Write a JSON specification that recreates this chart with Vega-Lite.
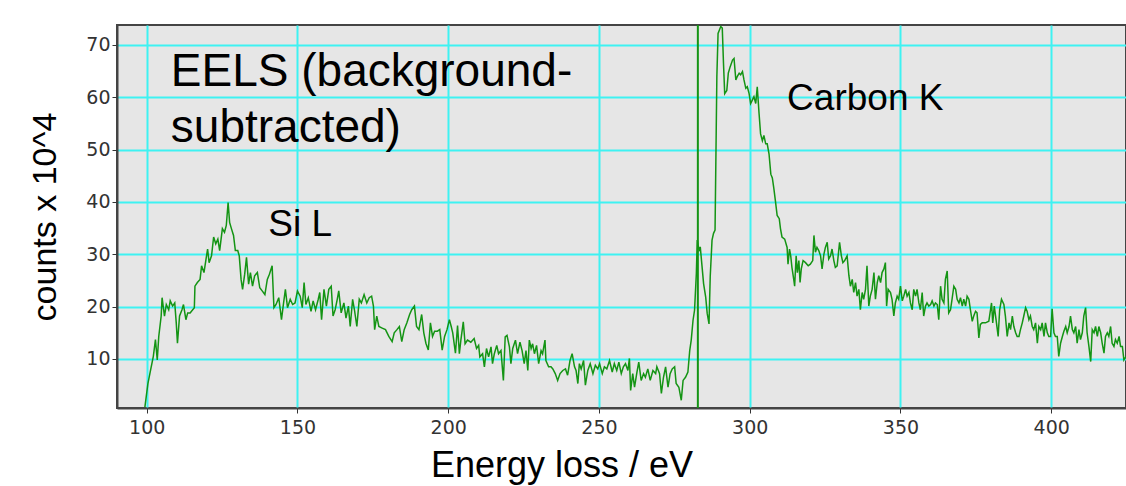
{
  "$schema": "https://vega.github.io/schema/vega-lite/v6.json",
  "width": 1009,
  "height": 383,
  "autosize": {"type": "none"},
  "padding": {"left": 117, "top": 25, "right": 0, "bottom": 78},
  "background": "#ffffff",
  "config": {
    "view": {"fill": "#e6e6e6", "stroke": "#444444", "strokeWidth": 2},
    "axis": {
      "grid": true,
      "gridColor": "#3ef2f2",
      "gridWidth": 2,
      "gridOpacity": 1,
      "domain": true,
      "domainColor": "#444444",
      "domainWidth": 2,
      "tickColor": "#333333",
      "tickSize": 5,
      "tickWidth": 1,
      "labelFont": "DejaVu Sans",
      "labelFontSize": 19,
      "labelColor": "#333333",
      "titleFont": "Liberation Sans",
      "titleFontWeight": "normal",
      "titleColor": "#000000"
    }
  },
  "datasets": {
    "spectrum": [
      {"energy": 99.4, "counts": 0.8}, {"energy": 100.4, "counts": 5.3}, {"energy": 101.3, "counts": 7.9}, {"energy": 102.2, "counts": 10.5}, {"energy": 102.9, "counts": 13.7}, {"energy": 103.5, "counts": 9.8}, {"energy": 104.0, "counts": 14.3}, {"energy": 104.8, "counts": 18.2}, {"energy": 105.1, "counts": 21.7}, {"energy": 105.9, "counts": 18.2}, {"energy": 106.5, "counts": 20.4}, {"energy": 107.3, "counts": 19.4}, {"energy": 107.8, "counts": 21.1}, {"energy": 108.6, "counts": 20.1}, {"energy": 109.3, "counts": 20.7}, {"energy": 109.8, "counts": 16.9}, {"energy": 110.2, "counts": 13.0}, {"energy": 110.9, "counts": 18.2}, {"energy": 111.7, "counts": 19.4}, {"energy": 112.2, "counts": 20.4}, {"energy": 113.0, "counts": 17.5}, {"energy": 113.6, "counts": 18.8}, {"energy": 114.4, "counts": 18.8}, {"energy": 115.8, "counts": 19.8}, {"energy": 116.0, "counts": 23.9}, {"energy": 116.8, "counts": 24.6}, {"energy": 117.7, "counts": 25.2}, {"energy": 118.2, "counts": 27.8}, {"energy": 119.0, "counts": 26.5}, {"energy": 119.6, "counts": 28.8}, {"energy": 120.2, "counts": 31.0}, {"energy": 120.7, "counts": 28.4}, {"energy": 121.5, "counts": 29.7}, {"energy": 122.2, "counts": 33.3}, {"energy": 122.9, "counts": 32.0}, {"energy": 123.6, "counts": 32.9}, {"energy": 124.2, "counts": 30.7}, {"energy": 125.1, "counts": 34.9}, {"energy": 125.8, "counts": 34.2}, {"energy": 126.4, "counts": 35.5}, {"energy": 127.0, "counts": 39.9}, {"energy": 127.5, "counts": 36.1}, {"energy": 128.1, "counts": 34.9}, {"energy": 128.8, "counts": 33.6}, {"energy": 129.4, "counts": 30.7}, {"energy": 130.2, "counts": 30.7}, {"energy": 130.7, "counts": 29.7}, {"energy": 131.3, "counts": 25.2}, {"energy": 131.8, "counts": 23.3}, {"energy": 132.5, "counts": 26.2}, {"energy": 133.1, "counts": 29.4}, {"energy": 133.8, "counts": 24.3}, {"energy": 134.4, "counts": 26.5}, {"energy": 135.1, "counts": 23.9}, {"energy": 135.8, "counts": 25.9}, {"energy": 136.7, "counts": 26.5}, {"energy": 137.5, "counts": 23.6}, {"energy": 138.3, "counts": 23.0}, {"energy": 139.2, "counts": 22.3}, {"energy": 140.0, "counts": 25.2}, {"energy": 140.7, "counts": 26.2}, {"energy": 141.6, "counts": 27.8}, {"energy": 142.2, "counts": 19.8}, {"energy": 142.9, "counts": 20.4}, {"energy": 143.8, "counts": 21.7}, {"energy": 144.7, "counts": 17.5}, {"energy": 145.4, "counts": 20.7}, {"energy": 146.0, "counts": 23.3}, {"energy": 146.7, "counts": 19.8}, {"energy": 147.6, "counts": 21.4}, {"energy": 148.4, "counts": 20.4}, {"energy": 149.2, "counts": 20.7}, {"energy": 150.0, "counts": 23.0}, {"energy": 150.9, "counts": 22.0}, {"energy": 151.6, "counts": 19.8}, {"energy": 152.2, "counts": 24.6}, {"energy": 152.8, "counts": 20.4}, {"energy": 153.6, "counts": 21.7}, {"energy": 154.5, "counts": 19.1}, {"energy": 155.2, "counts": 21.1}, {"energy": 156.0, "counts": 19.4}, {"energy": 156.9, "counts": 21.4}, {"energy": 157.4, "counts": 22.7}, {"energy": 158.0, "counts": 17.5}, {"energy": 158.8, "counts": 23.3}, {"energy": 159.6, "counts": 20.1}, {"energy": 160.4, "counts": 23.3}, {"energy": 161.2, "counts": 23.9}, {"energy": 161.8, "counts": 18.2}, {"energy": 162.5, "counts": 19.4}, {"energy": 163.2, "counts": 21.4}, {"energy": 163.7, "counts": 23.0}, {"energy": 164.5, "counts": 18.8}, {"energy": 165.4, "counts": 20.7}, {"energy": 166.1, "counts": 17.8}, {"energy": 166.9, "counts": 20.1}, {"energy": 167.5, "counts": 16.2}, {"energy": 168.3, "counts": 21.4}, {"energy": 168.9, "counts": 19.4}, {"energy": 169.7, "counts": 16.2}, {"energy": 170.5, "counts": 21.4}, {"energy": 171.2, "counts": 20.7}, {"energy": 172.1, "counts": 22.3}, {"energy": 173.0, "counts": 20.7}, {"energy": 173.8, "counts": 21.7}, {"energy": 174.6, "counts": 22.0}, {"energy": 175.2, "counts": 20.1}, {"energy": 175.6, "counts": 15.6}, {"energy": 176.3, "counts": 18.2}, {"energy": 177.0, "counts": 16.2}, {"energy": 178.1, "counts": 15.9}, {"energy": 179.2, "counts": 15.6}, {"energy": 180.3, "counts": 14.3}, {"energy": 181.4, "counts": 13.3}, {"energy": 182.1, "counts": 15.0}, {"energy": 183.0, "counts": 15.6}, {"energy": 183.8, "counts": 16.2}, {"energy": 184.6, "counts": 13.3}, {"energy": 185.4, "counts": 15.6}, {"energy": 186.3, "counts": 16.9}, {"energy": 187.2, "counts": 18.5}, {"energy": 187.9, "counts": 19.4}, {"energy": 188.8, "counts": 20.1}, {"energy": 189.5, "counts": 16.2}, {"energy": 190.3, "counts": 15.6}, {"energy": 191.2, "counts": 18.5}, {"energy": 191.9, "counts": 15.0}, {"energy": 192.6, "counts": 13.0}, {"energy": 193.4, "counts": 11.7}, {"energy": 194.1, "counts": 16.9}, {"energy": 194.8, "counts": 14.3}, {"energy": 195.5, "counts": 15.3}, {"energy": 196.4, "counts": 15.3}, {"energy": 197.2, "counts": 15.6}, {"energy": 198.0, "counts": 11.7}, {"energy": 198.8, "counts": 14.3}, {"energy": 199.6, "counts": 15.6}, {"energy": 200.4, "counts": 17.5}, {"energy": 201.0, "counts": 16.2}, {"energy": 201.5, "counts": 15.0}, {"energy": 202.4, "counts": 11.1},
      {"energy": 203.1, "counts": 16.4}, {"energy": 203.7, "counts": 11.0}, {"energy": 204.2, "counts": 13.6}, {"energy": 205.0, "counts": 17.1}, {"energy": 205.6, "counts": 12.9}, {"energy": 206.4, "counts": 13.6}, {"energy": 207.5, "counts": 13.2}, {"energy": 208.6, "counts": 13.9}, {"energy": 209.4, "counts": 12.0}, {"energy": 210.1, "counts": 12.6}, {"energy": 210.5, "counts": 10.4}, {"energy": 211.4, "counts": 11.0}, {"energy": 212.0, "counts": 8.5}, {"energy": 212.7, "counts": 12.0}, {"energy": 213.4, "counts": 10.4}, {"energy": 214.2, "counts": 12.3}, {"energy": 214.7, "counts": 9.1}, {"energy": 215.3, "counts": 11.0}, {"energy": 216.1, "counts": 12.6}, {"energy": 216.7, "counts": 11.0}, {"energy": 217.5, "counts": 11.6}, {"energy": 218.3, "counts": 5.9}, {"energy": 218.9, "counts": 14.2}, {"energy": 219.5, "counts": 14.5}, {"energy": 220.3, "counts": 12.3}, {"energy": 220.8, "counts": 9.1}, {"energy": 221.4, "counts": 12.0}, {"energy": 222.3, "counts": 13.6}, {"energy": 223.0, "counts": 11.0}, {"energy": 223.8, "counts": 13.2}, {"energy": 224.5, "counts": 11.6}, {"energy": 225.2, "counts": 9.1}, {"energy": 225.8, "counts": 11.6}, {"energy": 226.4, "counts": 7.8}, {"energy": 226.9, "counts": 13.6}, {"energy": 227.5, "counts": 12.0}, {"energy": 228.0, "counts": 12.9}, {"energy": 228.6, "counts": 11.0}, {"energy": 229.3, "counts": 12.6}, {"energy": 230.0, "counts": 9.1}, {"energy": 230.8, "counts": 11.6}, {"energy": 231.3, "counts": 11.0}, {"energy": 232.1, "counts": 13.6}, {"energy": 232.4, "counts": 9.7}, {"energy": 233.3, "counts": 8.5}, {"energy": 234.1, "counts": 8.5}, {"energy": 234.7, "counts": 8.1}, {"energy": 235.5, "counts": 7.2}, {"energy": 236.3, "counts": 5.9}, {"energy": 237.1, "counts": 7.2}, {"energy": 238.0, "counts": 7.8}, {"energy": 238.9, "counts": 8.1}, {"energy": 239.6, "counts": 6.9}, {"energy": 240.4, "counts": 9.7}, {"energy": 241.1, "counts": 11.0}, {"energy": 241.9, "counts": 8.5}, {"energy": 242.4, "counts": 7.8}, {"energy": 243.0, "counts": 5.3}, {"energy": 243.5, "counts": 9.1}, {"energy": 244.1, "counts": 8.1}, {"energy": 244.9, "counts": 9.7}, {"energy": 245.5, "counts": 5.0}, {"energy": 246.3, "counts": 7.8}, {"energy": 247.1, "counts": 9.1}, {"energy": 248.0, "counts": 7.2}, {"energy": 248.8, "counts": 8.8}, {"energy": 249.6, "counts": 8.1}, {"energy": 250.2, "counts": 9.1}, {"energy": 251.1, "counts": 7.2}, {"energy": 251.8, "counts": 8.5}, {"energy": 252.6, "counts": 8.1}, {"energy": 253.5, "counts": 9.7}, {"energy": 254.4, "counts": 7.5}, {"energy": 255.1, "counts": 9.1}, {"energy": 255.9, "counts": 7.8}, {"energy": 256.6, "counts": 9.4}, {"energy": 257.4, "counts": 7.2}, {"energy": 258.1, "counts": 8.5}, {"energy": 258.8, "counts": 9.1}, {"energy": 259.6, "counts": 7.8}, {"energy": 260.1, "counts": 10.1}, {"energy": 260.5, "counts": 4.0}, {"energy": 261.2, "counts": 7.2}, {"energy": 261.8, "counts": 4.6}, {"energy": 262.6, "counts": 7.5}, {"energy": 263.2, "counts": 9.4}, {"energy": 264.0, "counts": 5.9}, {"energy": 264.8, "counts": 7.2}, {"energy": 265.4, "counts": 6.5}, {"energy": 266.2, "counts": 8.1}, {"energy": 267.0, "counts": 5.9}, {"energy": 267.9, "counts": 7.8}, {"energy": 268.8, "counts": 7.2}, {"energy": 269.2, "counts": 8.5}, {"energy": 270.1, "counts": 7.2}, {"energy": 270.7, "counts": 3.4}, {"energy": 271.4, "counts": 6.5}, {"energy": 272.1, "counts": 8.5}, {"energy": 272.9, "counts": 4.6}, {"energy": 273.6, "counts": 7.2}, {"energy": 274.3, "counts": 8.1}, {"energy": 275.1, "counts": 8.5}, {"energy": 275.6, "counts": 5.3}, {"energy": 276.5, "counts": 4.6}, {"energy": 277.3, "counts": 2.1}, {"energy": 277.9, "counts": 5.9}, {"energy": 278.7, "counts": 6.5}, {"energy": 279.5, "counts": 7.5}, {"energy": 280.1, "counts": 11.6}, {"energy": 280.6, "counts": 13.6}, {"energy": 281.2, "counts": 17.4}, {"energy": 281.7, "counts": 19.3}, {"energy": 282.3, "counts": 26.3}, {"energy": 282.6, "counts": 32.7}, {"energy": 283.2, "counts": 30.8}, {"energy": 283.6, "counts": 31.4}, {"energy": 284.2, "counts": 27.6}, {"energy": 284.7, "counts": 24.4}, {"energy": 285.4, "counts": 21.8}, {"energy": 285.9, "counts": 18.7}, {"energy": 286.5, "counts": 16.7}, {"energy": 286.9, "counts": 25.7}, {"energy": 287.5, "counts": 32.7}, {"energy": 288.0, "counts": 34.0}, {"energy": 288.5, "counts": 34.6},
      {"energy": 289.1, "counts": 63.9}, {"energy": 289.5, "counts": 72.2}, {"energy": 290.4, "counts": 73.5}, {"energy": 290.9, "counts": 73.2}, {"energy": 291.3, "counts": 66.5}, {"energy": 291.7, "counts": 60.7}, {"energy": 292.4, "counts": 61.3}, {"energy": 292.9, "counts": 64.6}, {"energy": 293.5, "counts": 65.8}, {"energy": 294.3, "counts": 67.1}, {"energy": 294.8, "counts": 67.4}, {"energy": 295.4, "counts": 63.3}, {"energy": 295.9, "counts": 64.0}, {"energy": 296.5, "counts": 64.6}, {"energy": 297.0, "counts": 64.3}, {"energy": 297.6, "counts": 64.9}, {"energy": 298.1, "counts": 63.3}, {"energy": 298.7, "counts": 61.7}, {"energy": 299.2, "counts": 62.0}, {"energy": 299.8, "counts": 60.7}, {"energy": 300.3, "counts": 58.8}, {"energy": 300.9, "counts": 59.5}, {"energy": 301.4, "counts": 60.1}, {"energy": 302.0, "counts": 58.8}, {"energy": 302.5, "counts": 62.0}, {"energy": 303.1, "counts": 56.9}, {"energy": 303.6, "counts": 53.0}, {"energy": 304.2, "counts": 51.7}, {"energy": 304.7, "counts": 52.7}, {"energy": 305.3, "counts": 51.1}, {"energy": 305.8, "counts": 51.1}, {"energy": 306.4, "counts": 49.2}, {"energy": 307.0, "counts": 45.3}, {"energy": 307.5, "counts": 44.6},
      {"energy": 308.0, "counts": 42.6}, {"energy": 308.5, "counts": 40.3}, {"energy": 309.1, "counts": 37.4}, {"energy": 309.8, "counts": 36.8}, {"energy": 310.2, "counts": 34.9}, {"energy": 310.7, "counts": 33.3}, {"energy": 311.6, "counts": 32.9}, {"energy": 312.4, "counts": 31.3}, {"energy": 312.7, "counts": 28.1}, {"energy": 313.2, "counts": 31.0}, {"energy": 313.6, "counts": 29.7}, {"energy": 314.0, "counts": 27.5}, {"energy": 314.6, "counts": 25.2}, {"energy": 314.9, "counts": 23.9}, {"energy": 315.4, "counts": 29.7}, {"energy": 315.8, "counts": 26.5}, {"energy": 316.3, "counts": 28.8}, {"energy": 316.7, "counts": 24.6}, {"energy": 317.1, "counts": 27.2}, {"energy": 317.7, "counts": 28.8}, {"energy": 318.5, "counts": 28.4}, {"energy": 319.4, "counts": 27.8}, {"energy": 320.1, "counts": 28.1}, {"energy": 320.9, "counts": 28.8}, {"energy": 321.3, "counts": 33.6}, {"energy": 321.8, "counts": 30.4}, {"energy": 322.3, "counts": 31.3}, {"energy": 322.9, "counts": 30.7}, {"energy": 323.5, "counts": 29.7}, {"energy": 324.0, "counts": 27.2}, {"energy": 324.6, "counts": 30.0}, {"energy": 325.1, "counts": 31.3}, {"energy": 325.7, "counts": 32.3}, {"energy": 326.2, "counts": 29.1}, {"energy": 326.8, "counts": 29.7}, {"energy": 327.3, "counts": 31.0}, {"energy": 327.9, "counts": 28.8}, {"energy": 328.4, "counts": 27.5}, {"energy": 329.0, "counts": 27.8}, {"energy": 329.8, "counts": 32.3}, {"energy": 330.4, "counts": 29.7}, {"energy": 330.9, "counts": 28.4}, {"energy": 331.5, "counts": 28.8}, {"energy": 332.3, "counts": 29.7}, {"energy": 332.9, "counts": 25.9}, {"energy": 333.4, "counts": 23.9}, {"energy": 334.0, "counts": 25.2}, {"energy": 334.5, "counts": 22.7}, {"energy": 335.1, "counts": 24.6}, {"energy": 335.6, "counts": 22.0}, {"energy": 336.2, "counts": 23.3}, {"energy": 336.7, "counts": 19.4}, {"energy": 337.3, "counts": 22.7}, {"energy": 337.8, "counts": 21.4}, {"energy": 338.4, "counts": 23.3}, {"energy": 338.9, "counts": 27.8}, {"energy": 339.5, "counts": 20.1}, {"energy": 340.0, "counts": 22.0}, {"energy": 340.6, "counts": 23.3}, {"energy": 341.2, "counts": 26.5}, {"energy": 341.7, "counts": 21.4}, {"energy": 342.3, "counts": 24.6}, {"energy": 342.8, "counts": 25.9}, {"energy": 343.4, "counts": 24.6}, {"energy": 343.9, "counts": 26.5}, {"energy": 344.5, "counts": 27.2}, {"energy": 345.0, "counts": 28.4}, {"energy": 345.4, "counts": 20.1}, {"energy": 345.9, "counts": 23.3}, {"energy": 346.7, "counts": 22.7}, {"energy": 347.2, "counts": 21.4}, {"energy": 347.8, "counts": 18.2}, {"energy": 348.3, "counts": 20.7}, {"energy": 348.9, "counts": 22.0}, {"energy": 349.4, "counts": 21.4}, {"energy": 350.0, "counts": 23.9}, {"energy": 350.6, "counts": 21.1}, {"energy": 351.1, "counts": 22.0}, {"energy": 351.7, "counts": 23.3}, {"energy": 352.2, "counts": 22.0}, {"energy": 352.8, "counts": 22.7}, {"energy": 353.3, "counts": 20.7}, {"energy": 353.9, "counts": 19.4}, {"energy": 354.4, "counts": 23.3}, {"energy": 355.0, "counts": 22.0}, {"energy": 355.5, "counts": 23.3}, {"energy": 356.1, "counts": 20.7}, {"energy": 356.6, "counts": 19.4}, {"energy": 357.2, "counts": 22.7}, {"energy": 357.7, "counts": 18.2}, {"energy": 358.3, "counts": 20.1}, {"energy": 358.8, "counts": 20.7}, {"energy": 359.4, "counts": 20.1}, {"energy": 360.0, "counts": 20.4}, {"energy": 360.5, "counts": 21.1}, {"energy": 361.1, "counts": 20.1}, {"energy": 361.6, "counts": 20.7}, {"energy": 362.2, "counts": 20.4}, {"energy": 362.7, "counts": 17.5}, {"energy": 363.3, "counts": 23.9}, {"energy": 363.8, "counts": 21.4}, {"energy": 364.4, "counts": 20.7}, {"energy": 364.9, "counts": 25.2}, {"energy": 365.5, "counts": 26.8}, {"energy": 366.0, "counts": 18.8}, {"energy": 366.6, "counts": 19.4}, {"energy": 367.1, "counts": 21.4}, {"energy": 367.7, "counts": 23.9}, {"energy": 368.3, "counts": 23.3}, {"energy": 368.8, "counts": 21.4}, {"energy": 369.4, "counts": 20.7}, {"energy": 369.9, "counts": 21.7}, {"energy": 370.5, "counts": 20.1}, {"energy": 371.0, "counts": 21.4}, {"energy": 371.6, "counts": 20.1}, {"energy": 372.1, "counts": 22.0}, {"energy": 372.7, "counts": 21.4}, {"energy": 373.2, "counts": 19.4}, {"energy": 373.8, "counts": 17.2}, {"energy": 374.3, "counts": 18.2}, {"energy": 374.9, "counts": 19.1}, {"energy": 375.4, "counts": 18.8}, {"energy": 376.0, "counts": 14.0}, {"energy": 376.5, "counts": 16.6}, {"energy": 377.1, "counts": 16.9}, {"energy": 378.2, "counts": 16.9}, {"energy": 379.3, "counts": 17.2}, {"energy": 380.2, "counts": 20.7}, {"energy": 380.6, "counts": 16.9}, {"energy": 381.1, "counts": 20.1}, {"energy": 381.7, "counts": 17.5}, {"energy": 382.4, "counts": 14.3}, {"energy": 382.9, "counts": 19.4}, {"energy": 383.5, "counts": 21.4}, {"energy": 384.3, "counts": 20.4}, {"energy": 384.8, "counts": 18.2}, {"energy": 385.4, "counts": 14.3}, {"energy": 386.0, "counts": 16.9}, {"energy": 386.5, "counts": 15.6}, {"energy": 387.1, "counts": 18.2}, {"energy": 387.6, "counts": 16.2}, {"energy": 388.2, "counts": 15.0}, {"energy": 388.7, "counts": 14.3}, {"energy": 389.3, "counts": 14.3}, {"energy": 389.8, "counts": 15.6}, {"energy": 390.4, "counts": 16.9}, {"energy": 390.9, "counts": 18.2}, {"energy": 391.5, "counts": 19.8}, {"energy": 392.0, "counts": 19.1}, {"energy": 392.6, "counts": 17.5}, {"energy": 393.1, "counts": 18.2}, {"energy": 393.7, "counts": 16.2}, {"energy": 394.2, "counts": 15.6}, {"energy": 394.8, "counts": 16.9}, {"energy": 395.4, "counts": 13.0}, {"energy": 395.9, "counts": 16.2}, {"energy": 396.5, "counts": 15.6}, {"energy": 397.0, "counts": 16.9}, {"energy": 397.6, "counts": 14.3}, {"energy": 398.1, "counts": 16.9}, {"energy": 398.7, "counts": 15.0}, {"energy": 399.2, "counts": 14.3}, {"energy": 399.8, "counts": 14.3}, {"energy": 400.3, "counts": 19.6}, {"energy": 400.9, "counts": 15.0}, {"energy": 401.4, "counts": 14.3}, {"energy": 402.0, "counts": 14.3}, {"energy": 402.5, "counts": 10.5}, {"energy": 403.1, "counts": 13.0}, {"energy": 403.7, "counts": 14.3}, {"energy": 404.2, "counts": 15.3}, {"energy": 404.8, "counts": 16.2}, {"energy": 405.3, "counts": 15.0}, {"energy": 405.9, "counts": 16.2}, {"energy": 406.4, "counts": 18.2}, {"energy": 407.0, "counts": 15.6}, {"energy": 407.5, "counts": 15.0}, {"energy": 408.1, "counts": 16.2}, {"energy": 408.6, "counts": 13.0}, {"energy": 409.2, "counts": 15.6}, {"energy": 409.7, "counts": 13.7}, {"energy": 410.3, "counts": 15.0}, {"energy": 410.8, "counts": 18.2}, {"energy": 411.4, "counts": 19.8}, {"energy": 411.9, "counts": 15.0}, {"energy": 412.5, "counts": 12.4}, {"energy": 413.1, "counts": 9.5}, {"energy": 413.6, "counts": 15.6}, {"energy": 414.2, "counts": 15.0}, {"energy": 414.7, "counts": 16.2}, {"energy": 415.3, "counts": 14.3}, {"energy": 415.8, "counts": 16.2}, {"energy": 416.4, "counts": 15.0}, {"energy": 416.9, "counts": 13.0}, {"energy": 417.5, "counts": 11.1}, {"energy": 418.0, "counts": 14.3}, {"energy": 418.6, "counts": 15.0}, {"energy": 419.1, "counts": 14.3}, {"energy": 419.7, "counts": 16.2}, {"energy": 420.2, "counts": 13.0}, {"energy": 420.8, "counts": 12.4}, {"energy": 421.3, "counts": 13.7}, {"energy": 421.9, "counts": 13.0}, {"energy": 422.5, "counts": 14.3}, {"energy": 423.0, "counts": 12.4}, {"energy": 423.6, "counts": 12.4}, {"energy": 424.1, "counts": 9.8}, {"energy": 424.8, "counts": 10.5}
    ],
    "marker": [{"energy": 282.8}],
    "labels": [
      {"energy": 108.0, "counts": 62.2, "label": "EELS (background-", "size": "big"},
      {"energy": 108.0, "counts": 51.5, "label": "subtracted)", "size": "big"},
      {"energy": 140.3, "counts": 33.4, "label": "Si L", "size": "small"},
      {"energy": 312.4, "counts": 57.6, "label": "Carbon K", "size": "small"}
    ]
  },
  "layer": [
    {
      "data": {"name": "spectrum"},
      "mark": {"type": "line", "color": "#149414", "strokeWidth": 1.5, "clip": true},
      "encoding": {
        "x": {
          "field": "energy",
          "type": "quantitative",
          "scale": {"domain": [90.15, 424.8], "nice": false, "zero": false},
          "axis": {
            "title": "Energy loss / eV",
            "values": [100, 150, 200, 250, 300, 350, 400],
            "titleFontSize": 36,
            "titleX": 444.5,
            "titleY": 68,
            "titleAlign": "center",
            "titleBaseline": "alphabetic",
            "labelPadding": 5
          }
        },
        "y": {
          "field": "counts",
          "type": "quantitative",
          "scale": {"domain": [0.63, 73.8], "nice": false, "zero": false},
          "axis": {
            "title": "counts x 10^4",
            "values": [10, 20, 30, 40, 50, 60, 70],
            "titleFontSize": 34,
            "titleX": -62,
            "titleBaseline": "alphabetic",
            "labelPadding": 2
          }
        }
      }
    },
    {
      "data": {"name": "marker"},
      "mark": {"type": "rule", "color": "#149414", "strokeWidth": 2},
      "encoding": {
        "x": {"field": "energy", "type": "quantitative"}
      }
    },
    {
      "data": {"name": "labels"},
      "mark": {"type": "text", "align": "left", "baseline": "alphabetic", "font": "Liberation Sans", "color": "#000000"},
      "encoding": {
        "x": {"field": "energy", "type": "quantitative"},
        "y": {"field": "counts", "type": "quantitative"},
        "text": {"field": "label"},
        "size": {"field": "size", "type": "nominal", "scale": {"domain": ["big", "small"], "range": [46, 37]}, "legend": null}
      }
    }
  ]
}
